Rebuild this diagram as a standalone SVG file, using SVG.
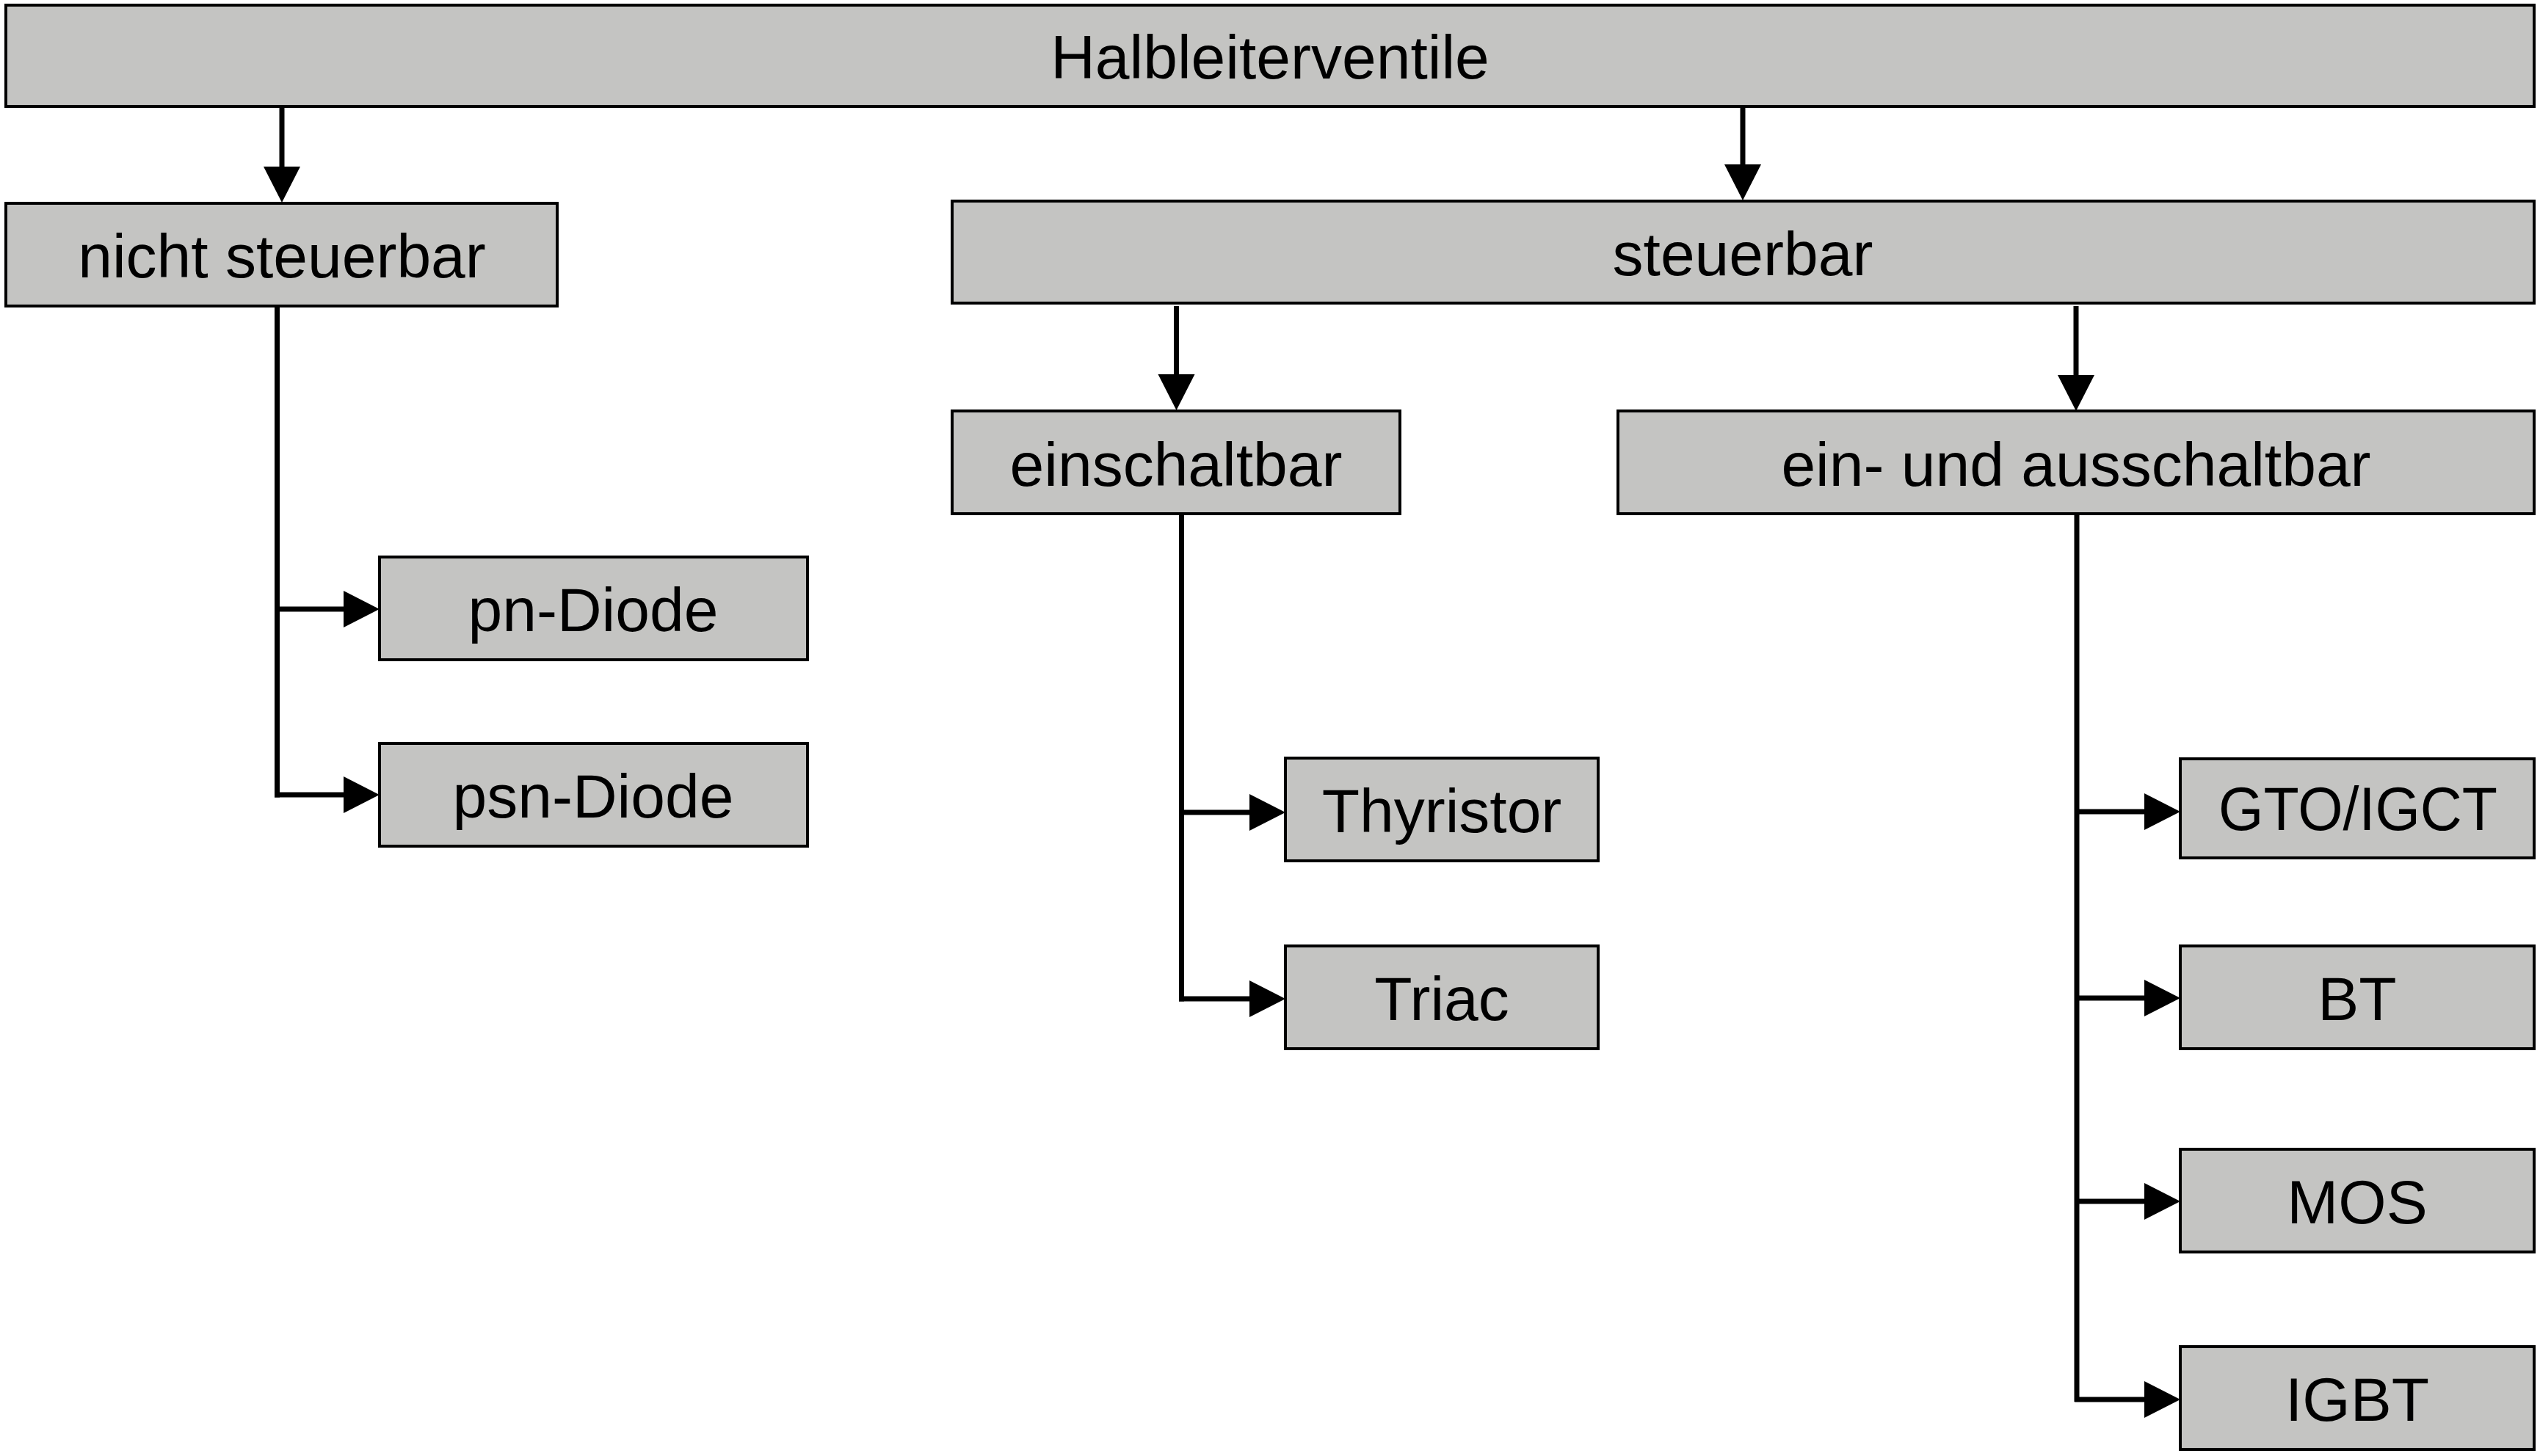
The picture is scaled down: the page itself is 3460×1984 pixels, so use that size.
<svg xmlns="http://www.w3.org/2000/svg" width="3460" height="1984" viewBox="0 0 3460 1984">
<style>
.box{fill:#c4c4c2;stroke:#000;stroke-width:4;stroke-linejoin:miter}
.lbl{font-family:"Liberation Sans",Arial,sans-serif;font-size:84px;fill:#000;text-anchor:middle}
.con{fill:none;stroke:#000;stroke-width:7;stroke-linecap:butt}
.arr{marker-end:url(#ah)}
</style>
<defs>
<marker id="ah" markerUnits="userSpaceOnUse" markerWidth="50" markerHeight="52" refX="0" refY="25" orient="auto" overflow="visible">
<path d="M0,0 L49,25 L0,50 Z" fill="#000"/>
</marker>
</defs>
<rect width="3460" height="1984" fill="#fff"/>
<g id="connectors">
<path class="con arr" d="M384,146 V227"/>
<path class="con arr" d="M2374,146 V224"/>
<path class="con" d="M377.5,417 V1086.5"/>
<path class="con arr" d="M377.5,830 H468"/>
<path class="con arr" d="M374,1083 H468"/>
<path class="con arr" d="M1602.5,417 V510"/>
<path class="con arr" d="M2828,417 V511"/>
<path class="con" d="M1609.5,700 V1364.5"/>
<path class="con arr" d="M1609.5,1107 H1702"/>
<path class="con arr" d="M1606,1361 H1702"/>
<path class="con" d="M2829,700 V1910"/>
<path class="con arr" d="M2829,1106 H2921"/>
<path class="con arr" d="M2829,1360 H2921"/>
<path class="con arr" d="M2829,1637 H2921"/>
<path class="con arr" d="M2826,1907 H2921"/>
</g>
<g id="n-halbleiterventile"><rect class="box" x="8" y="7" width="3444" height="138"/><text class="lbl" x="1730" y="107">Halbleiterventile</text></g>
<g id="n-nicht-steuerbar"><rect class="box" x="8" y="277" width="751" height="140"/><text class="lbl" x="384" y="378">nicht steuerbar</text></g>
<g id="n-steuerbar"><rect class="box" x="1297" y="274" width="2155" height="139"/><text class="lbl" x="2374" y="375">steuerbar</text></g>
<g id="n-einschaltbar"><rect class="box" x="1297" y="560" width="610" height="140"/><text class="lbl" x="1602" y="662">einschaltbar</text></g>
<g id="n-ein-aus"><rect class="box" x="2204" y="560" width="1248" height="140"/><text class="lbl" x="2828" y="662">ein- und ausschaltbar</text></g>
<g id="n-pn-diode"><rect class="box" x="517" y="759" width="583" height="140"/><text class="lbl" x="808" y="860">pn-Diode</text></g>
<g id="n-psn-diode"><rect class="box" x="517" y="1013" width="583" height="140"/><text class="lbl" x="808" y="1114">psn-Diode</text></g>
<g id="n-thyristor"><rect class="box" x="1751" y="1033" width="426" height="140"/><text class="lbl" x="1964" y="1134">Thyristor</text></g>
<g id="n-triac"><rect class="box" x="1751" y="1289" width="426" height="140"/><text class="lbl" x="1964" y="1390">Triac</text></g>
<g id="n-gto"><rect class="box" x="2970" y="1034" width="482" height="135"/><text class="lbl" x="3212" y="1131" textLength="380" lengthAdjust="spacingAndGlyphs">GTO/IGCT</text></g>
<g id="n-bt"><rect class="box" x="2970" y="1289" width="482" height="140"/><text class="lbl" x="3211" y="1390">BT</text></g>
<g id="n-mos"><rect class="box" x="2970" y="1566" width="482" height="140"/><text class="lbl" x="3211" y="1667">MOS</text></g>
<g id="n-igbt"><rect class="box" x="2970" y="1835" width="482" height="140"/><text class="lbl" x="3211" y="1936">IGBT</text></g>
</svg>
